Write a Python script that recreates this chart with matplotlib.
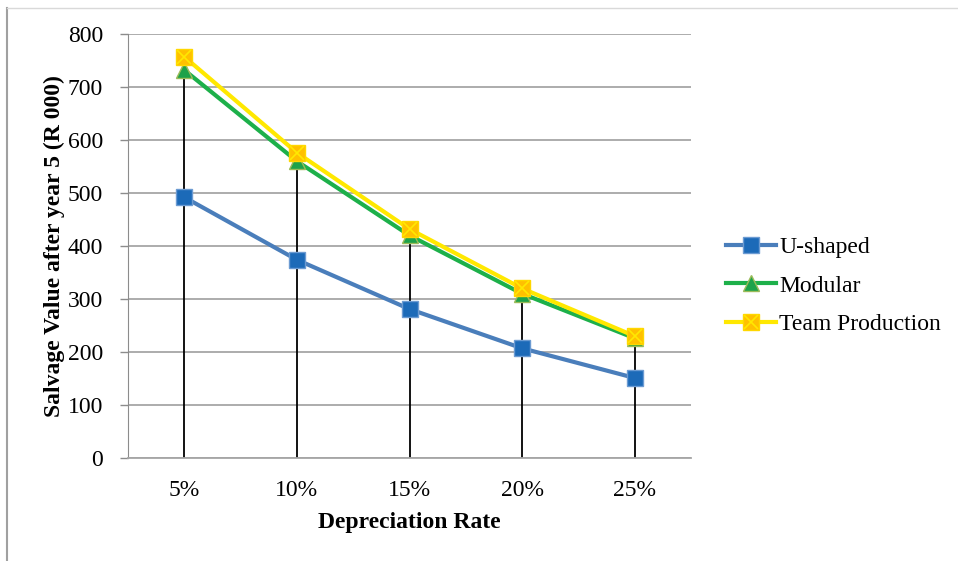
import matplotlib.pyplot as plt
from matplotlib.lines import Line2D

rates = ["5%", "10%", "15%", "20%", "25%"]
u_shaped = [492, 374, 281, 207, 151]
modular = [732, 560, 420, 310, 226]
team_production = [757, 576, 432, 320, 230]
yticks = [0, 100, 200, 300, 400, 500, 600, 700, 800]

plt.rcParams["font.family"] = ["Liberation Serif", "DejaVu Serif"]
FS = 17

fig = plt.figure(figsize=(9.58, 5.61), dpi=100)
ax = fig.add_axes([128 / 958, 1 - 458 / 561, 563 / 958, 424 / 561])

x = [i + 0.5 for i in range(len(rates))]

# drop lines to the highest series
ax.vlines(x, 0, [max(a, b, c) for a, b, c in zip(u_shaped, modular, team_production)],
          colors="black", linewidth=1.3, zorder=2)

l1, = ax.plot(x, u_shaped, color="#4A7EBB", linewidth=3, marker="s", markersize=11,
              markerfacecolor="#1C6AB8", markeredgecolor="#6C9BD2", markeredgewidth=1, zorder=3)
l2, = ax.plot(x, modular, color="#1DB04A", linewidth=3, marker="^", markersize=11,
              markerfacecolor="#1DA24A", markeredgecolor="#9BBB59", markeredgewidth=1, zorder=4)
l3, = ax.plot(x, team_production, color="#FFE800", linewidth=3, marker="s", markersize=11,
              markerfacecolor="#FFC000", markeredgecolor="#FFD700", markeredgewidth=1, zorder=5)
l3x, = ax.plot(x, team_production, linestyle="none", marker="x", markersize=10,
               markeredgecolor="#FFE800", markeredgewidth=1.2, zorder=6)

ax.set_xlim(0, 5)
ax.set_ylim(0, 800)
ax.set_xticks(x)
ax.set_xticklabels(rates, fontsize=FS)
ax.set_yticks(yticks)
ax.set_yticklabels([str(v) for v in yticks], fontsize=FS)
ax.tick_params(axis="x", length=0, pad=16)
ax.tick_params(axis="y", length=6, width=1, color="#8C8C8C", pad=12)
ax.grid(axis="y", color="#A6A6A6", linewidth=1.3, zorder=0)
ax.set_axisbelow(True)
for s in ["top", "right"]:
    ax.spines[s].set_visible(False)
ax.spines["left"].set_color("#8C8C8C")
ax.spines["bottom"].set_color("#A6A6A6")
ax.spines["bottom"].set_linewidth(1.3)

ax.set_xlabel("Depreciation Rate", fontsize=FS, fontweight="bold", labelpad=8)
ax.set_ylabel("Salvage Value after year 5 (R 000)", fontsize=FS, fontweight="bold", labelpad=2)

fig.legend([l1, l2, (l3, l3x)], ["U-shaped", "Modular", "Team Production"],
           loc="center left", bbox_to_anchor=(726 / 958, 1 - 286 / 561),
           frameon=False, fontsize=FS, handlelength=2.1, handletextpad=0.15,
           labelspacing=0.72, borderaxespad=0, borderpad=0)

# outer frame (top and left edges only)
fig.add_artist(Line2D([7 / 958, 7 / 958], [0, 1 - 8 / 561], transform=fig.transFigure,
                      color="#A0A0A0", linewidth=1.5))
fig.add_artist(Line2D([7 / 958, 1], [1 - 8 / 561, 1 - 8 / 561], transform=fig.transFigure,
                      color="#D9D9D9", linewidth=1))

fig.savefig("out.png")
